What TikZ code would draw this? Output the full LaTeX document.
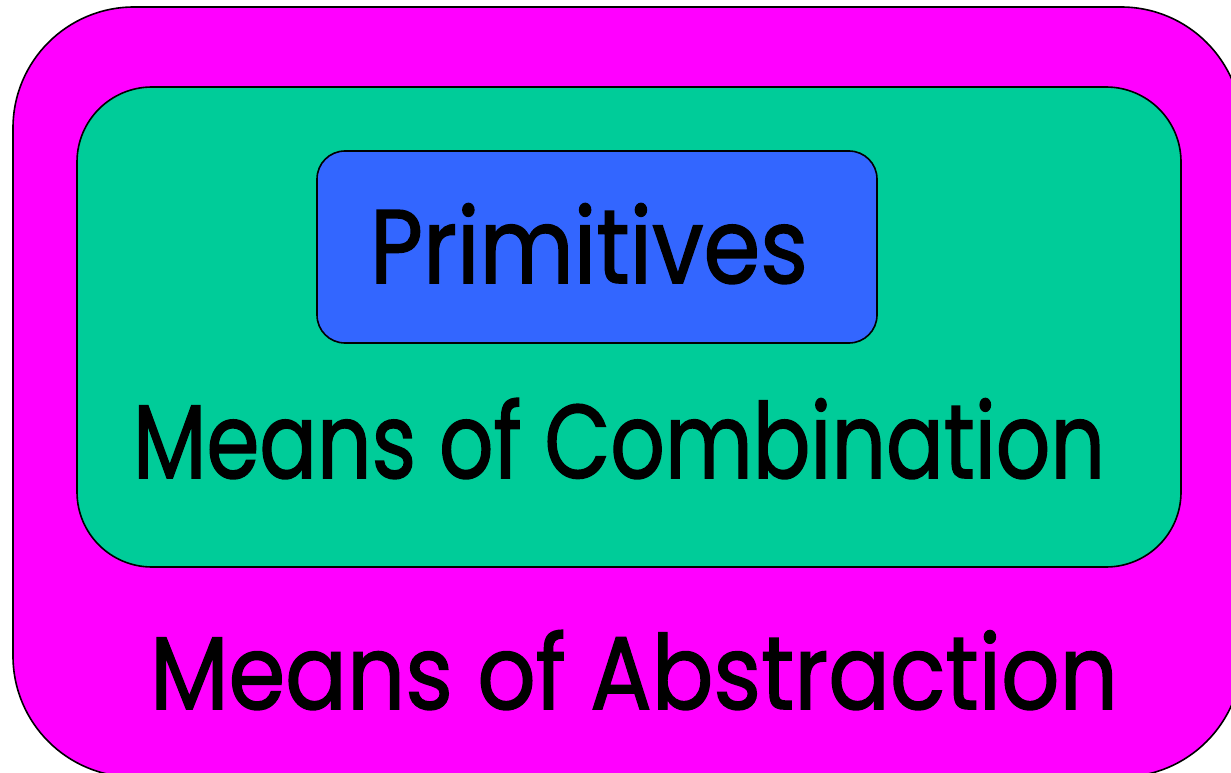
\documentclass[tikz,border=0pt]{standalone}
\usepackage{fontspec}
\usepackage{graphicx}
\setmainfont{Poppins}[FakeBold=1.5]
\definecolor{abstrcol}{HTML}{FF00FF}
\definecolor{combcol}{HTML}{00CC99}
\definecolor{primcol}{HTML}{3366FF}
\newcommand\fittext[3]{\resizebox{#1}{#2}{\raisebox{0pt}[\fontcharht\font`M][0pt]{#3}}}
\begin{document}
\begin{tikzpicture}[x=1pt,y=-1pt,
  box/.style={draw=black, line width=1.6pt, inner sep=0pt},
  lbl/.style={anchor=base, inner sep=0pt, text=black, font=\fontsize{100pt}{100pt}\selectfont}]
\useasboundingbox (0,0) rectangle (1231,773);
\clip (0,0) rectangle (1231,773);
\node[box, fill=abstrcol, rounded corners=121pt, minimum width=1229pt, minimum height=770pt] (abstraction) at (627.5,392) {};
\node[box, fill=combcol, rounded corners=75pt, minimum width=1104pt, minimum height=480pt] (combination) at (629,327) {};
\node[box, fill=primcol, rounded corners=28pt, minimum width=560pt, minimum height=192pt] (primitives) at (597,247) {};
\node[lbl] (primtext) at (589,283) {\fittext{438pt}{73pt}{Primitives}};
\node[lbl] (combtext) at (619,478) {\fittext{972pt}{73pt}{Means of Combination}};
\node[lbl] (abstrtext) at (634,709) {\fittext{968pt}{72pt}{Means of Abstraction}};
\end{tikzpicture}
\end{document}
